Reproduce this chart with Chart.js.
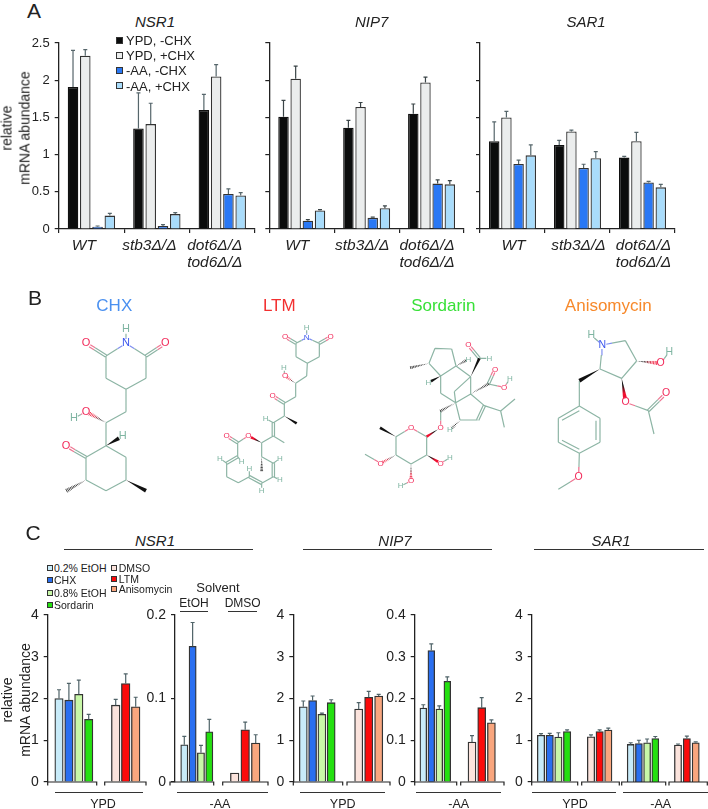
<!DOCTYPE html>
<html><head><meta charset="utf-8">
<style>
html,body{margin:0;padding:0;background:#fff;}
#page{position:relative;width:708px;height:809px;overflow:hidden;background:#fff;font-family:'Liberation Sans',Arial,sans-serif;color:#222;}
canvas{position:absolute;}
.t{position:absolute;white-space:pre;line-height:1;transform:translate(-50%,-50%);}
.l{position:absolute;white-space:pre;line-height:1;transform:translateY(-50%);}
.r{position:absolute;height:1.2px;background:#333;}
.s{position:absolute;box-sizing:border-box;border:1px solid #333;}
</style></head><body><div id="page"></div>
<script src="https://cdn.jsdelivr.net/npm/chart.js@4"></script>
<script>
/* ---------- DATA: panel A ---------- */
const strains=['WT','stb3Δ/Δ',['dot6Δ/Δ','tod6Δ/Δ']];
const aSeries=['YPD, -CHX','YPD, +CHX','-AA, -CHX','-AA, +CHX'];
const aYTicks=[0,0.5,1,1.5,2,2.5];
const nsr1A=[[1.91,1.35,1.6],[2.33,1.41,2.05],[0.03,0.04,0.47],[0.18,0.2,0.45]];
const nsr1ATop=[[2.4,1.83,1.81],[2.41,1.69,2.21],[0.04,0.06,0.54],[0.21,0.22,0.49]];
const nip7A=[[1.51,1.36,1.55],[2.02,1.64,1.97],[0.11,0.15,0.61],[0.25,0.28,0.6]];
const nip7ATop=[[1.73,1.46,1.68],[2.19,1.7,2.04],[0.125,0.16,0.66],[0.26,0.31,0.65]];
const sar1A=[[1.18,1.13,0.96],[1.5,1.31,1.18],[0.875,0.82,0.625],[0.99,0.95,0.56]];
const sar1ATop=[[1.44,1.19,0.975],[1.58,1.33,1.3],[0.925,0.87,0.64],[1.13,1.04,0.6]];
/* ---------- DATA: panel C ---------- */
const etohDrugs=['0.2% EtOH','CHX','0.8% EtOH','Sordarin'];
const dmsoDrugs=['DMSO','LTM','Anisomycin'];
const nsr1YpdEtoh=[2.0,1.96,2.1,1.5], nsr1YpdEtohTop=[2.21,2.36,2.44,1.62];
const nsr1YpdDmso=[1.84,2.36,1.8], nsr1YpdDmsoTop=[1.98,2.59,2.03];
const nsr1AaEtoh=[0.0446,0.1625,0.035,0.06], nsr1AaEtohTop=[0.0546,0.191,0.0438,0.075];
const nsr1AaDmso=[0.0108,0.0625,0.0466], nsr1AaDmsoTop=[0.0108,0.0717,0.0566];
const nip7YpdEtoh=[1.8,1.95,1.62,1.9], nip7YpdEtohTop=[1.94,2.06,1.65,1.97];
const nip7YpdDmso=[1.745,2.03,2.06], nip7YpdDmsoTop=[1.9,2.17,2.1];
const nip7AaEtoh=[0.177,0.315,0.1745,0.241], nip7AaEtohTop=[0.185,0.331,0.1825,0.252];
const nip7AaDmso=[0.0956,0.178,0.142], nip7AaDmsoTop=[0.111,0.202,0.149];
const sar1YpdEtoh=[1.12,1.12,1.075,1.21], sar1YpdEtohTop=[1.16,1.165,1.18,1.25];
const sar1YpdDmso=[1.084,1.21,1.243], sar1YpdDmsoTop=[1.13,1.25,1.29];
const sar1AaEtoh=[0.9,0.92,0.94,1.04], sar1AaEtohTop=[0.94,1.0,1.03,1.09];
const sar1AaDmso=[0.885,1.04,0.94], sar1AaDmsoTop=[0.91,1.1,0.96];
/* ---------- Molecule drawings (bond lists, in reference zoom units) ---------- */
const chxBonds=[[378,190,318,228],[378,190,438,228],[318,228,258,190,'d'],[438,228,496,190,'d'],[318,228,318,295],[318,295,378,328],[378,328,438,295],[438,295,438,228],[378,190,378,148],[378,328,378,395],[378,395,318,428],[318,428,258,395,'hr'],[258,395,222,415],[318,428,318,497],[318,497,368,468,'w'],[318,497,378,532],[378,532,378,600],[378,600,318,632],[318,632,258,600],[258,600,258,532],[258,532,318,497],[258,532,198,497,'d'],[258,600,200,632,'h'],[378,600,438,632,'w']];
const chxLabels=[['O',258,190],['O',496,190],['N',378,190],['H',378,148],['O',258,395],['H',222,415],['H',368,468],['O',198,497]];
const ltmBonds=[[920,173,888,190],[920,173,958,190],[888,190,855,170,'d'],[958,190,992,170,'d'],[920,173,920,142],[888,190,888,230],[888,230,922,250],[922,250,958,230],[958,230,958,190],[922,250,920,288],[920,288,887,310],[887,310,855,288,'hr'],[855,288,852,263],[887,310,887,350],[887,350,853,370],[853,370,818,348,'d'],[853,370,853,408],[853,408,890,430,'w'],[853,408,820,428],[820,428,797,416],[820,428,820,468,'d'],[820,468,853,488],[820,468,785,488],[785,488,745,468,'wr'],[745,468,713,488],[713,488,680,468,'d'],[713,488,713,530],[713,530,680,550,'d'],[713,530,725,545],[680,550,660,535],[680,550,680,590],[680,590,715,608],[715,608,748,590],[748,590,748,565],[748,590,785,610,'d'],[785,610,785,632],[785,610,820,590],[820,590,840,600],[820,590,820,550,'d'],[820,550,840,535],[820,550,785,530],[785,530,785,488],[785,530,785,572,'h']];
const ltmLabels=[['N',920,173],['H',920,142],['O',855,170],['O',992,170],['O',855,288],['H',852,263],['O',818,348],['H',797,416],['O',745,468],['O',680,468],['H',725,545],['H',660,535],['H',748,565],['H',785,632],['H',840,600],['H',840,535]];
const sordBonds=[[237,250,255,205],[255,205,305,207],[305,207,318,258],[318,258,272,288],[272,288,237,250],[237,250,182,263,'h'],[318,258,355,238,'h'],[272,288,235,308,'w'],[318,258,362,290],[362,290,388,235,'w'],[388,235,355,195,'d'],[388,235,418,235],[362,290,362,342],[272,288,272,340],[272,340,317,368],[362,290,313,335],[313,335,317,368],[362,342,317,368],[362,342,415,312,'h'],[415,312,435,268,'d'],[415,312,462,322],[462,322,480,297],[362,342,403,377],[403,377,383,420,'d'],[383,420,330,420],[330,420,317,368],[330,420,300,450,'h'],[403,377,452,393],[452,393,495,357],[452,393,463,442],[317,368,272,393,'h'],[272,393,272,443],[272,443,230,470,'wr'],[230,470,183,443],[183,443,138,470],[138,470,90,443,'w'],[138,470,138,525],[138,525,92,550,'hr'],[92,550,45,523],[138,525,183,552],[183,552,183,603,'hr'],[183,603,152,618],[183,552,230,525],[230,525,272,550,'wr'],[272,550,300,533],[230,525,230,470]];
const sordLabels=[['O',355,195],['H',418,235],['O',435,268],['O',462,322],['H',480,297],['H',355,238],['H',235,308],['H',300,450],['O',272,443],['O',183,443],['O',92,550],['O',183,603],['H',152,618],['O',272,550],['H',300,533]];
const anisoBonds=[[757,195,826,182],[826,182,860,243],[860,243,815,295],[815,295,750,267],[750,267,757,195],[757,195,724,166],[860,243,932,250,'hr'],[932,250,958,215],[815,295,827,367,'wr'],[827,367,895,392],[895,392,948,340,'d'],[895,392,912,462],[750,267,688,302,'w'],[688,302,688,378],[688,378,750,415],[750,415,750,487],[750,487,688,520],[688,520,625,487],[625,487,625,415],[625,415,688,378],[636,421,688,392],[738,422,738,480],[636,481,688,508],[688,520,686,590],[686,590,625,628]];
const anisoLabels=[['N',757,195],['H',724,166],['O',932,250],['H',958,215],['O',827,367],['O',948,340],['O',686,590]];

/* ---------- styles ---------- */
const aColors=['#0b0c0c','#ebeded','#2a78f5','#a9dcfb'];
const etohColors=['#c8ebf9','#2a6ff0','#c8f7a8','#24e010'];
const dmsoColors=['#fbe3dc','#fb0b0b','#f9a67e'];
const FONT="'Liberation Sans',Arial,sans-serif";
const INK='#222';
const page=document.getElementById('page');
Chart.defaults.font.family=FONT;
Chart.defaults.color=INK;
Chart.defaults.devicePixelRatio=1;

function text(s,cx,cy,size,opt={}){
  const d=document.createElement('div');d.className='t';d.textContent=s;
  d.style.left=cx+'px';d.style.top=cy+'px';d.style.fontSize=size+'px';
  if(opt.italic)d.style.fontStyle='italic';
  if(opt.color)d.style.color=opt.color;
  page.appendChild(d);return d;
}
function ltext(s,x,cy,size){const d=document.createElement('div');d.className='l';d.textContent=s;d.style.left=x+'px';d.style.top=cy+'px';d.style.fontSize=size+'px';page.appendChild(d);}
function rule(x1,x2,y){const d=document.createElement('div');d.className='r';d.style.left=x1+'px';d.style.width=(x2-x1)+'px';d.style.top=y+'px';page.appendChild(d);}
function swatch(x,cy,size,col){const d=document.createElement('div');d.className='s';d.style.left=x+'px';d.style.top=(cy-size/2)+'px';d.style.width=size+'px';d.style.height=size+'px';d.style.background=col;page.appendChild(d);}
function yLabel(cy){const d=document.createElement('div');d.className='t';d.textContent='relative\nmRNA abundance';
  d.style.left='15.5px';d.style.top=cy+'px';d.style.fontSize='14px';d.style.lineHeight='17.5px';d.style.textAlign='center';
  d.style.transform='translate(-50%,-50%) rotate(-90deg)';page.appendChild(d);}
function newCanvas(left,top,w,h){const c=document.createElement('canvas');c.width=w;c.height=h;c.style.left=left+'px';c.style.top=top+'px';c.style.width=w+'px';c.style.height=h+'px';page.appendChild(c);return c.getContext('2d');}

const errorBars={id:'errorBars',afterDatasetsDraw(chart,_a,opts){
  const ctx=chart.ctx,y=chart.scales.y;
  ctx.save();ctx.strokeStyle=opts.color||'#4f6368';ctx.lineWidth=1.2;
  chart.data.datasets.forEach((ds,i)=>{
    chart.getDatasetMeta(i).data.forEach((el,j)=>{
      const top=ds.tops[j];if(top==null||top<=ds.rawValues[j])return;
      const py=y.getPixelForValue(top);
      ctx.beginPath();ctx.moveTo(el.x,el.y);ctx.lineTo(el.x,py);ctx.moveTo(el.x-2,py);ctx.lineTo(el.x+2,py);ctx.stroke();
    });
  });
  ctx.restore();
}};
const brackets={id:'brackets',afterDraw(chart,_a,opts){
  if(!opts.spans)return;
  const ctx=chart.ctx,y0=chart.scales.y.getPixelForValue(0),ca=chart.chartArea;
  ctx.save();ctx.strokeStyle=INK;ctx.lineWidth=1.2;
  opts.spans.forEach(s=>{
    const a=ca.left+s[0],b=ca.left+s[1];
    ctx.beginPath();ctx.moveTo(a,y0+3.5);ctx.lineTo(a,y0);ctx.lineTo(b,y0);ctx.lineTo(b,y0+3.5);ctx.stroke();
  });
  ctx.restore();
}};
const fmt=v=>String(Math.round(v*100)/100);

/* ---------- panel A ---------- */
function panelA(o){
  const yW=o.showLabels?58.7:10, left=Math.floor(o.axisX-yW);
  const extra=14, topPad=10, plotH=186, xH=46;
  const ctx=newCanvas(left,33,Math.ceil(o.axisX-left+(o.end-o.axisX))+extra,topPad+plotH+xH);
  const yWidth=o.axisX-left;
  new Chart(ctx,{type:'bar',
    data:{labels:strains,datasets:aSeries.map((n,i)=>({label:n,data:o.values[i],rawValues:o.values[i],tops:o.tops[i],
      backgroundColor:aColors[i],borderColor:i==0?'#111':'#333',borderWidth:1.3,categoryPercentage:0.75,barPercentage:0.86}))},
    plugins:[errorBars],
    options:{responsive:false,animation:false,layout:{padding:{top:topPad,bottom:0,left:0,right:extra}},
      plugins:{legend:{display:false},tooltip:{enabled:false},errorBars:{color:o.errColor}},
      scales:{
        x:{type:'category',offset:true,afterFit(s){s.height=xH;s.paddingLeft=0;s.paddingRight=0;},
          grid:{offset:true,drawOnChartArea:false,tickLength:4,color:INK,lineWidth:1.2},border:{color:INK,width:1.3},
          ticks:{autoSkip:false,maxRotation:0,minRotation:0,padding:5,labelOffset:o.labelOffset,color:INK,font:{size:15.5,style:'italic',lineHeight:1.05}}},
        y:{min:0,max:2.5,afterFit(s){s.width=yWidth;s.paddingTop=0;s.paddingBottom=0;},
          afterBuildTicks(s){s.ticks=aYTicks.map(v=>({value:v}));},
          grid:{drawOnChartArea:false,tickLength:4,color:INK,lineWidth:1.2},border:{color:INK,width:1.3},
          ticks:{display:o.showLabels,callback:fmt,padding:5,color:INK,font:{size:13}}}
      }}});
}
panelA({axisX:58.7,end:255,values:nsr1A,tops:nsr1ATop,showLabels:true,labelOffset:-7.5,errColor:'#56666b'});
panelA({axisX:269.3,end:464,values:nip7A,tops:nip7ATop,showLabels:false,labelOffset:-4.5,errColor:'#3a4447'});
panelA({axisX:480,end:675,values:sar1A,tops:sar1ATop,showLabels:false,labelOffset:1,errColor:'#56666b'});

/* ---------- panel C ---------- */
function panelC(o){
  const yW=o.noAxis?0:o.yW||34, left=Math.floor(o.axisX-yW), yWidth=o.axisX-left;
  const topPad=10,botPad=8,plotH=167;
  const plotW=o.end-o.axisX, width=Math.ceil(yWidth+plotW);
  const ctx=newCanvas(left,605,width,topPad+plotH+botPad);
  const toSlot=px=>(px-o.c0)/o.sp;
  const g2=toSlot(o.c4), ratio=o.sp2/o.sp;
  const mk=(vals,tops,cols,names,x0,step,th)=>({label:names.join(', '),
    data:vals.map((v,i)=>({x:x0+i*step,y:v})),rawValues:vals,tops,backgroundColor:cols,borderColor:'#333',borderWidth:1.3,barThickness:th});
  new Chart(ctx,{type:'bar',
    data:{datasets:[mk(o.etoh,o.etohTop,etohColors,etohDrugs,0,1,o.w1),mk(o.dmso,o.dmsoTop,dmsoColors,dmsoDrugs,g2,ratio,o.w2)]},
    plugins:[errorBars,brackets],
    options:{responsive:false,animation:false,grouped:false,layout:{padding:{top:topPad,bottom:botPad,left:0,right:0}},
      plugins:{legend:{display:false},tooltip:{enabled:false},errorBars:{color:'#4f6368'},
        brackets:{spans:o.spans.map(s=>[s[0]-o.axisX,s[1]-o.axisX])}},
      scales:{
        x:{type:'linear',display:false,offset:false,min:toSlot(o.axisX),max:toSlot(o.end),grid:{offset:false}},
        y:{display:!o.noAxis,min:0,max:o.max,afterFit(s){s.width=yWidth;s.paddingTop=0;s.paddingBottom=0;},
          ticks:{stepSize:o.step,callback:fmt,padding:5,color:INK,font:{size:14}},
          grid:{drawOnChartArea:false,tickLength:4,color:INK,lineWidth:1.2},border:{color:INK,width:1.3}}
      }}});
}
panelC({axisX:47.7,end:147,max:4,step:1,yW:40,c0:59,sp:9.9,c4:115.7,sp2:10,w1:8.4,w2:8.6,spans:[[47.7,96.7],[104.7,146]],
  etoh:nsr1YpdEtoh,etohTop:nsr1YpdEtohTop,dmso:nsr1YpdDmso,dmsoTop:nsr1YpdDmsoTop});
panelC({axisX:175,end:269,max:0.2,step:0.1,c0:184.3,sp:8.33,c4:234.7,sp2:10.5,w1:7.2,w2:8.6,spans:[[170,213.7],[222.7,268]],
  etoh:nsr1AaEtoh,etohTop:nsr1AaEtohTop,dmso:nsr1AaDmso,dmsoTop:nsr1AaDmsoTop});
panelC({axisX:293.3,end:391,max:4,step:1,c0:303.3,sp:9.3,c4:358.7,sp2:10,w1:8,w2:8.2,spans:[[293.3,342.7],[347,390]],
  etoh:nip7YpdEtoh,etohTop:nip7YpdEtohTop,dmso:nip7YpdDmso,dmsoTop:nip7YpdDmsoTop});
panelC({axisX:414.7,end:505,max:0.4,step:0.1,yW:38,c0:423.3,sp:8,c4:472,sp2:9.7,w1:6.8,w2:8,spans:[[414.7,456.7],[460.7,504]],
  etoh:nip7AaEtoh,etohTop:nip7AaEtohTop,dmso:nip7AaDmso,dmsoTop:nip7AaDmsoTop});
panelC({axisX:531.7,end:620,max:4,step:1,c0:541,sp:8.7,c4:591,sp2:8.65,w1:7.4,w2:7.4,spans:[[531.7,577.7],[581.7,619.3]],
  etoh:sar1YpdEtoh,etohTop:sar1YpdEtohTop,dmso:sar1YpdDmso,dmsoTop:sar1YpdDmsoTop});
panelC({axisX:621,end:708,max:4,step:1,noAxis:true,c0:630.7,sp:8.2,c4:678,sp2:8.85,w1:7,w2:7.2,spans:[[621.7,665.7],[669,707.3]],
  etoh:sar1AaEtoh,etohTop:sar1AaEtohTop,dmso:sar1AaDmso,dmsoTop:sar1AaDmsoTop});

/* ---------- panel B: molecules as a scatter chart on reference-sized scales ---------- */
const molecules=[
 {bonds:chxBonds,labels:chxLabels,dx:0,size:11,r:13,wedge:2},
 {bonds:ltmBonds,labels:ltmLabels,dx:0,size:8,r:9,wedge:1.4},
 {bonds:sordBonds,labels:sordLabels,dx:350,size:8,r:9,wedge:1.4},
 {bonds:anisoBonds,labels:anisoLabels,dx:350,size:10.5,r:12,wedge:2}
];
const lineSets={green:[],pink:[],blue:[]}, wedgeList=[], labelList=[];
const LBL={O:'#f22a5a',N:'#3a55ee',H:'#7fb5a2'};
const mx=(m,x)=>x/3+m.dx, my=y=>280+y/3;
molecules.forEach(m=>{
  const hit=(x,y)=>m.labels.find(l=>Math.abs(l[1]-x)<7&&Math.abs(l[2]-y)<7);
  m.bonds.forEach(b=>{
    let [x1,y1,x2,y2,k]=b;
    const la=hit(x1,y1),lb=hit(x2,y2),len=Math.hypot(x2-x1,y2-y1),ux=(x2-x1)/len,uy=(y2-y1)/len;
    if(la){x1+=ux*m.r;y1+=uy*m.r;}
    if(lb){x2-=ux*m.r;y2-=uy*m.r;}
    if(k&&k!=='d'){wedgeList.push({x1:mx(m,x1),y1:my(y1),x2:mx(m,x2),y2:my(y2),k,hw:m.wedge});return;}
    const offs=k==='d'?[-3.5,3.5]:[0];
    offs.forEach(of=>{
      const ax=x1-uy*of,ay=y1+ux*of,bx=x2-uy*of,by=y2+ux*of;
      const seg=(set,p,q)=>{set.push({x:mx(m,p[0]),y:my(p[1])},{x:mx(m,q[0]),y:my(q[1])},{x:null,y:null});};
      const frac=(p,q,t)=>[p[0]+(q[0]-p[0])*t,p[1]+(q[1]-p[1])*t];
      let s=0,e=1;const A=[ax,ay],B=[bx,by];
      if(la&&la[0]!=='H'){const set=la[0]==='O'?lineSets.pink:lineSets.blue;seg(set,A,frac(A,B,.3));s=.3;}
      if(lb&&lb[0]!=='H'){const set=lb[0]==='O'?lineSets.pink:lineSets.blue;seg(set,frac(A,B,.7),B);e=.7;}
      seg(lineSets.green,frac(A,B,s),frac(A,B,e));
    });
  });
  m.labels.forEach(l=>labelList.push({t:l[0],x:mx(m,l[1]),y:my(l[2]),size:m.size}));
});
const molPlugin={id:'molPlugin',afterDatasetsDraw(chart){
  const c=chart.ctx,X=chart.scales.x,Y=chart.scales.y;
  c.save();
  wedgeList.forEach(w=>{
    const ax=X.getPixelForValue(w.x1),ay=Y.getPixelForValue(w.y1),bx=X.getPixelForValue(w.x2),by=Y.getPixelForValue(w.y2);
    const len=Math.hypot(bx-ax,by-ay),nx=-(by-ay)/len,ny=(bx-ax)/len;
    let col='#111';
    if(w.k.endsWith('r')){col=c.createLinearGradient(ax,ay,bx,by);col.addColorStop(0.35,'#111');col.addColorStop(0.75,'#f01030');}
    if(w.k[0]==='w'){
      c.fillStyle=col;c.beginPath();c.moveTo(ax,ay);c.lineTo(bx+nx*w.hw,by+ny*w.hw);c.lineTo(bx-nx*w.hw,by-ny*w.hw);c.closePath();c.fill();
    }else{
      c.strokeStyle=col;c.lineWidth=0.8;
      const n=Math.max(4,Math.round(len/1.6));
      for(let i=1;i<=n;i++){const t=i/n,px=ax+(bx-ax)*t,py=ay+(by-ay)*t,h=w.hw*t;
        c.beginPath();c.moveTo(px+nx*h,py+ny*h);c.lineTo(px-nx*h,py-ny*h);c.stroke();}
    }
  });
  c.textAlign='center';c.textBaseline='middle';
  labelList.forEach(l=>{c.font=l.size+"px "+FONT;c.fillStyle=LBL[l.t];c.fillText(l.t,X.getPixelForValue(l.x),Y.getPixelForValue(l.y));});
  c.restore();
}};
const molLine=(data,color)=>({data,borderColor:color,borderWidth:1.2,showLine:true,spanGaps:false,pointRadius:0,fill:false});
new Chart(newCanvas(0,280,708,235),{type:'scatter',
  data:{datasets:[molLine(lineSets.green,'#8db5a5'),molLine(lineSets.pink,'#ef7592'),molLine(lineSets.blue,'#7f8ff0')]},
  plugins:[molPlugin],
  options:{responsive:false,animation:false,layout:{padding:0},plugins:{legend:{display:false},tooltip:{enabled:false}},
    scales:{x:{type:'linear',display:false,min:0,max:708},y:{type:'linear',display:false,reverse:true,min:280,max:515}}}});

/* ---------- annotations ---------- */
text('A',34,10,21);text('B',35,297,21);text('C',33,532,21);
yLabel(128);yLabel(699.5);
[['NSR1',155],['NIP7',371.7],['SAR1',586]].forEach(g=>text(g[0],g[1],20.7,15,{italic:true}));
aSeries.forEach((s,i)=>{const y=40+i*15.2;swatch(116,y,7,aColors[i]);ltext(s,126,y,13);});
text('CHX',114.3,305,17,{color:'#4a90f0'});text('LTM',279.3,305,17,{color:'#f23030'});
text('Sordarin',443.3,305,17,{color:'#38e038'});text('Anisomycin',608.3,305,17,{color:'#f7892b'});
[['NSR1',155,64,253],['NIP7',395,302.7,491.7],['SAR1',611,534,704]].forEach(g=>{text(g[0],g[1],540,15,{italic:true});rule(g[2],g[3],549);});
etohDrugs.forEach((s,i)=>{const y=568+i*12.4;swatch(46.5,y,6,etohColors[i]);ltext(s,54,y,10.5);});
dmsoDrugs.forEach((s,i)=>{const y=568+i*10.6;swatch(110.5,y,6,dmsoColors[i]);ltext(s,118.7,y,10.5);});
text('Solvent',218,587,13);text('EtOH',194,603,12);text('DMSO',242.7,603,12);
rule(180,208,611);rule(228,256.7,611);
[[55,143,103,'YPD'],[176.7,268,220,'-AA'],[300,385.3,342.7,'YPD'],[416,500.7,458.7,'-AA'],[531.7,616,575,'YPD'],[622.7,708,660.7,'-AA']]
 .forEach(g=>{rule(g[0],g[1],792);text(g[3],g[2],804,12.5);});
</script></body></html>
